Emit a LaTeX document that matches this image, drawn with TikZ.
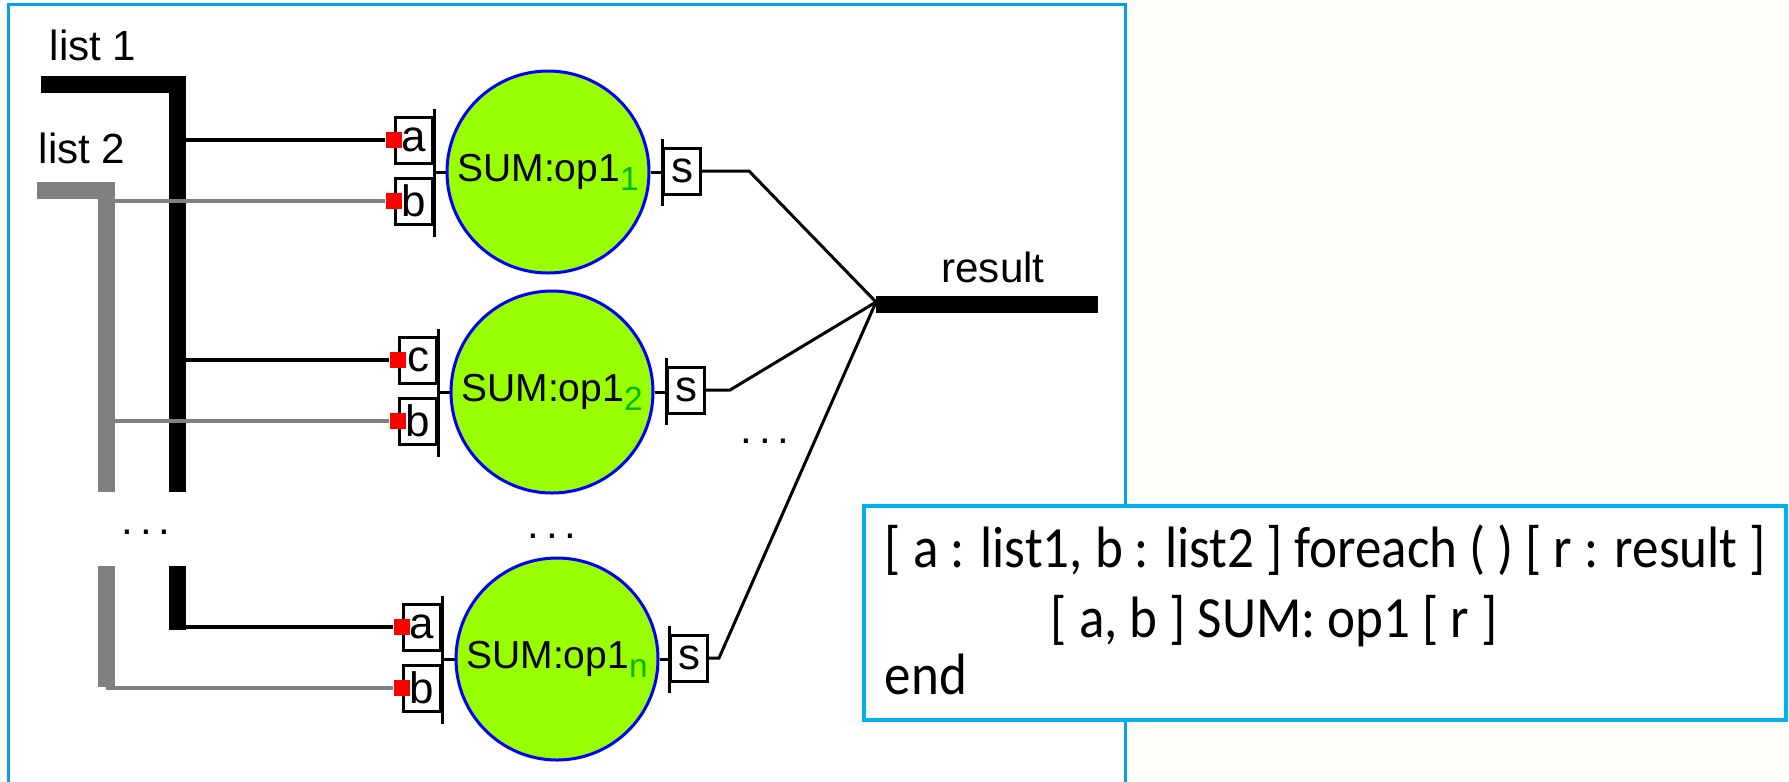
\documentclass[tikz,border=0pt]{standalone}
\usepackage{graphicx}
\usepackage{fontspec}
\setmainfont{Carlito}
\newfontfamily\guifont{Liberation Sans}
\definecolor{framecyan}{RGB}{0,162,232}
\definecolor{boxcyan}{RGB}{0,176,240}
\definecolor{opgreen}{RGB}{153,255,0}
\definecolor{idgreen}{RGB}{0,185,0}
\definecolor{portred}{RGB}{255,0,0}
\definecolor{listgray}{RGB}{128,128,128}
\definecolor{paper}{RGB}{254,254,250}
\usetikzlibrary{positioning, calc}
\tikzset{
    opnode/.style={
           circle,
           fill=opgreen,
           draw=blue, line width=0.3mm,
           minimum size=20.2mm,
           inner sep=0pt,
           font=\guifont\fontsize{11.1}{13}\selectfont,
           },
    portbox/.style={
           rectangle,
           draw=black, line width=0.3mm,
           minimum width=3.7mm, minimum height=4.6mm,
           inner sep=0pt,
           font=\guifont\fontsize{12.5}{14}\selectfont,
           },
    portpin/.style={rectangle, fill=portred, minimum size=1.65mm, inner sep=0pt},
    portbar/.style={line width=0.3mm},
    wire/.style={line width=0.4mm},
    graywire/.style={line width=0.35mm, listgray},
    fanwire/.style={line width=0.3mm},
    listbus/.style={line width=1.7mm},
    graybus/.style={line width=1.7mm, listgray},
    buslabel/.style={font=\guifont\fontsize{12}{14}\selectfont, inner sep=0pt},
    codebox/.style={
           rectangle,
           draw=boxcyan, line width=0.4mm, fill=white,
           minimum width=92.2mm, minimum height=21.4mm,
           },
    codeline/.style={anchor=base west, inner sep=0pt, font=\fontsize{15.1}{18}\selectfont},
}
\newcommand{\OpName}[1]{SUM:op1\textcolor{idgreen}{\smash{\raisebox{-2.5pt}{\fontsize{9.5}{10}\selectfont #1}}}}
\newcommand{\Dots}{.\,.\,.}
\newcommand{\Code}[1]{\scalebox{1}[1.1]{#1}}

\begin{document}
\begin{tikzpicture}[x=0.1mm, y=-0.1mm]
      \useasboundingbox (0,0) rectangle (1789,781);
      \fill[paper] (1125.5,0) rectangle (1789,781);
      \fill[white] (0,0) rectangle (1125.5,781);
      \draw[framecyan, line width=0.3mm] (8.5,850) -- (8.5,4) -- (1125.5,4) -- (1125.5,850);

      % input lists
      \node[buslabel] (l1name) at (93,45)  {list 1};
      \node[buslabel] (l2name) at (82,148) {list 2};
      \coordinate (l1top) at (177,84);
      \coordinate (l1bot) at (177,566);
      \coordinate (l2top) at (106,190);
      \coordinate (l2bot) at (106,566);
      \draw[graybus] (37,190) -- (l2top) -- (106,492);
      \draw[graybus] (l2bot) -- (106,687);
      \draw[listbus] (41,84) -- (l1top) -- (177,492);
      \draw[listbus] (l1bot) -- (177,630);

      % operators
      \node[opnode]  (op1) at (548,172) {\OpName{1}};
      \node[opnode]  (op2) at (552,392) {\OpName{2}};
      \node[opnode]  (opn) at (557,659) {\OpName{n}};

      \node[portbox] (a1) at (414,140) {a};
      \node[portbox] (b1) at (414,201) {b};
      \node[portbox] (s1) at (682,171) {s};
      \node[portbox] (a2) at (418,360) {c};
      \node[portbox] (b2) at (418,421) {b};
      \node[portbox] (s2) at (686,390) {s};
      \node[portbox] (an) at (422,627) {a};
      \node[portbox] (bn) at (422,688) {b};
      \node[portbox] (sn) at (689,658) {s};

      \draw[portbar] ([yshift=0.7mm]a1.north east) -- ([yshift=-1.1mm]b1.south east);
      \draw[portbar] ([yshift=0.7mm]a2.north east) -- ([yshift=-1.1mm]b2.south east);
      \draw[portbar] ([yshift=0.7mm]an.north east) -- ([yshift=-1.1mm]bn.south east);
      \draw[portbar] ([yshift=0.75mm]s1.north west) -- ([yshift=-1.05mm]s1.south west);
      \draw[portbar] ([yshift=0.75mm]s2.north west) -- ([yshift=-1.05mm]s2.south west);
      \draw[portbar] ([yshift=0.75mm]sn.north west) -- ([yshift=-1.05mm]sn.south west);

      \draw[portbar] (op1.west) -- (op1.west -| a1.east);
      \draw[portbar] (op2.west) -- (op2.west -| a2.east);
      \draw[portbar] (opn.west) -- (opn.west -| an.east);
      \draw[portbar] (op1.east) -- (op1.east -| s1.west);
      \draw[portbar] (op2.east) -- (op2.east -| s2.west);
      \draw[portbar] (opn.east) -- (opn.east -| sn.west);

      \node[portpin] (pa1) at (a1.west) {};
      \node[portpin] (pb1) at (b1.west) {};
      \node[portpin] (pa2) at (a2.west) {};
      \node[portpin] (pb2) at (b2.west) {};
      \node[portpin] (pan) at (an.west) {};
      \node[portpin] (pbn) at (bn.west) {};

      % list wires
      \draw[wire]     (l1top |- pa1) -- (pa1);
      \draw[wire]     (l1top |- pa2) -- (pa2);
      \draw[wire]     (l1bot |- pan) -- (pan);
      \draw[graywire] (l2top |- pb1) -- (pb1);
      \draw[graywire] (l2top |- pb2) -- (pb2);
      \draw[graywire] (l2bot |- pbn) -- (pbn);

      % result
      \coordinate (join) at (876,302);
      \coordinate (resend) at (1098,304);
      \node[buslabel] (resname) at (993,267) {result};
      \draw[fanwire] (s1.east) -- ++(47,0) -- (join);
      \draw[fanwire] (s2.east) -- ++(24,0) -- (join);
      \draw[fanwire] (sn.east) -- ++(10,0) -- (join);
      \draw[listbus] (join |- resend) -- (resend);

      \node[buslabel] (dotsl) at (146,532) {\Dots};
      \node[buslabel] (dotsm) at (552,536) {\Dots};
      \node[buslabel] (dotsr) at (765,441) {\Dots};

      % code
      \node[codebox]  (code)  at (1325,613) {};
      \node[codeline] (line1) at (884,567)  {\Code{[ a : list1, b : list2 ] foreach ( ) [ r : result ]}};
      \node[codeline] (line2) at (1050,637) {\Code{[ a, b ] SUM: op1 [ r ]}};
      \node[codeline] (line3) at (884,694)  {\Code{end}};
    \end{tikzpicture}
\end{document}
